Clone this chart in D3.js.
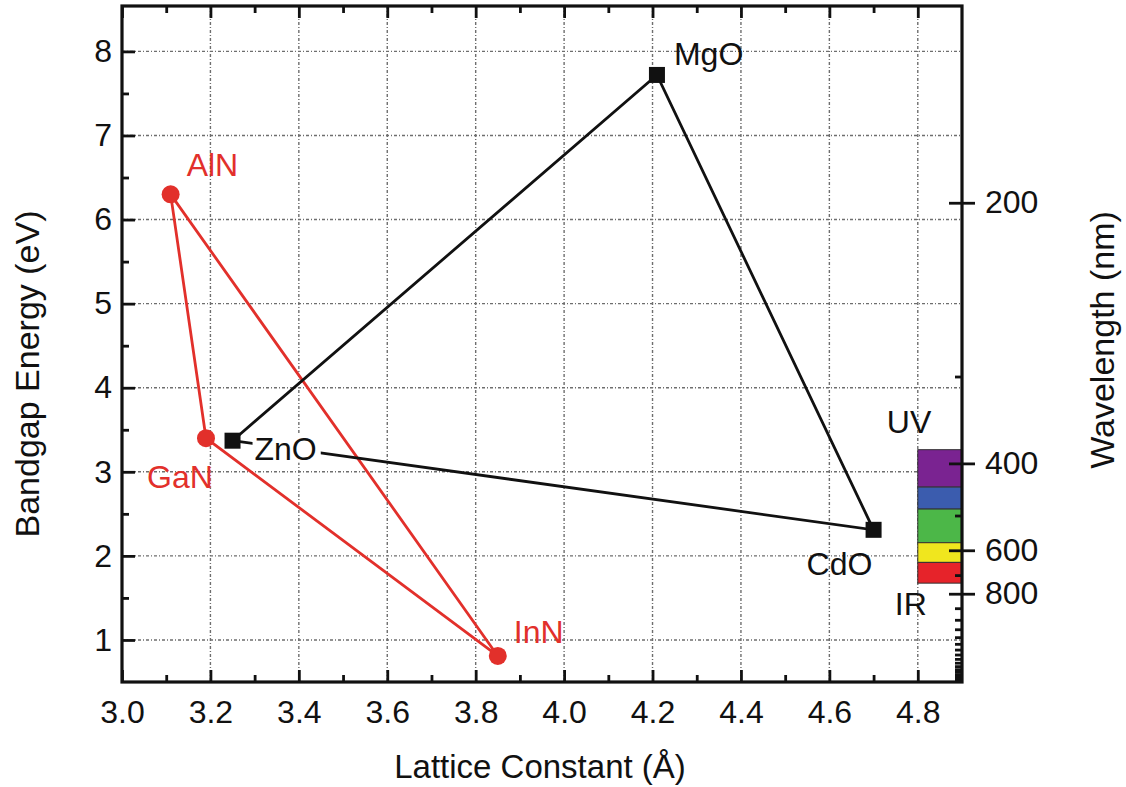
<!DOCTYPE html>
<html>
<head>
<meta charset="utf-8">
<script src="https://cdn.jsdelivr.net/npm/d3@7"></script>
<style>
  html, body { margin: 0; padding: 0; background: #fff; }
  svg { display: block; }
  text { font-family: Arial, "Liberation Sans", sans-serif; }
</style>
</head>
<body>
<svg id="chart" width="1126" height="787"></svg>
<script>
// ---------- data ----------
const nitrideNames = ["AlN", "GaN", "InN"];
const nitrideLattice = [3.11, 3.19, 3.85];
const nitrideGap = [6.3, 3.4, 0.81];

const oxideNames = ["ZnO", "MgO", "CdO"];
const oxideLattice = [3.25, 4.21, 4.70];
const oxideGap = [3.37, 7.72, 2.31];

const xTicksMajor = [3.0, 3.2, 3.4, 3.6, 3.8, 4.0, 4.2, 4.4, 4.6, 4.8];
const xTicksMinor = [3.1, 3.3, 3.5, 3.7, 3.9, 4.1, 4.3, 4.5, 4.7];
const yTicksMajor = [1, 2, 3, 4, 5, 6, 7, 8];
const yTicksMinor = [1.5, 2.5, 3.5, 4.5, 5.5, 6.5, 7.5];
const wlTicksMajor = [200, 400, 600, 800];
const wlTicksMinor = [300, 500, 700, 900, 1000, 1100, 1200, 1300, 1400, 1500, 1600, 1700, 1800, 1900, 2000, 2100, 2200, 2300, 2400];

const bandEdges = [380, 440, 485, 575, 645, 740]; // nm
const bandColors = ["#7a2391", "#3b5cae", "#4cb748", "#f0e61e", "#e6232a"];

// ---------- layout ----------
const svg = d3.select("#chart");
const L = 122, R = 962, T = 6, B = 682;
const xDomain = [3.0, 4.9];
const yDomain = [0.5, 8.54];
const x = d3.scaleLinear().domain(xDomain).range([L, R]);
const y = d3.scaleLinear().domain(yDomain).range([B, T]);
const hc = 1240; // eV*nm
const wl = d3.scalePow().exponent(-1)
  .domain([hc / yDomain[1], hc / yDomain[0]])
  .range([T, B]);

const RED = "#e2302b";
const BLACK = "#111";
const FONT = 32;

// ---------- grid ----------
const gridStyle = g => g.attr("stroke", "#6e6e6e").attr("stroke-width", 1.4)
  .attr("stroke-dasharray", "3,2,1,2").attr("fill", "none");
svg.append("g").call(gridStyle).selectAll("line")
  .data(xTicksMajor.filter(v => v > xDomain[0]))
  .join("line")
  .attr("x1", d => x(d)).attr("x2", d => x(d)).attr("y1", T).attr("y2", B);
svg.append("g").call(gridStyle).selectAll("line")
  .data(yTicksMajor)
  .join("line")
  .attr("x1", L).attr("x2", R).attr("y1", d => y(d)).attr("y2", d => y(d));

// ---------- colour bar ----------
const bands = bandColors.map((c, i) => ({ c, a: bandEdges[i], b: bandEdges[i + 1] }));
svg.append("g").selectAll("rect").data(bands).join("rect")
  .attr("x", x(4.8)).attr("width", x(4.9) - x(4.8))
  .attr("y", d => wl(d.a)).attr("height", d => wl(d.b) - wl(d.a))
  .attr("fill", d => d.c).attr("stroke", "#333").attr("stroke-width", 1);

// ---------- lines ----------
const nitrides = nitrideNames.map((n, i) => ({ n, a: nitrideLattice[i], e: nitrideGap[i] }));
const oxides = oxideNames.map((n, i) => ({ n, a: oxideLattice[i], e: oxideGap[i] }));
const line = d3.line().x(d => x(d.a)).y(d => y(d.e));

svg.append("path").datum([...nitrides, nitrides[0]])
  .attr("d", line).attr("fill", "none").attr("stroke", RED).attr("stroke-width", 2.8);
svg.append("path").datum([...oxides, oxides[0]])
  .attr("d", line).attr("fill", "none").attr("stroke", BLACK).attr("stroke-width", 2.8);

// ---------- labels ----------
const labelOffsets = {
  AlN: [16, -18], GaN: [-59, 50], InN: [16, -13],
  ZnO: [22, 19], MgO: [17, -10], CdO: [-67, 45]
};
function addLabels(data, color, halo) {
  const g = svg.append("g");
  data.forEach(d => {
    const [dx, dy] = labelOffsets[d.n];
    const t = g.append("text")
      .attr("x", x(d.a) + dx).attr("y", y(d.e) + dy)
      .attr("font-size", FONT).attr("fill", color).text(d.n);
    if (halo.includes(d.n)) {
      const bb = t.node().getBBox();
      g.insert("rect", () => t.node())
        .attr("x", bb.x - 2).attr("y", bb.y + 4).attr("width", bb.width + 6).attr("height", bb.height - 8)
        .attr("fill", "#fff");
    }
  });
}
addLabels(nitrides, RED, []);
addLabels(oxides, BLACK, ["ZnO"]);

// ---------- markers ----------
svg.append("g").selectAll("circle").data(nitrides).join("circle")
  .attr("cx", d => x(d.a)).attr("cy", d => y(d.e)).attr("r", 9).attr("fill", RED);
svg.append("g").selectAll("rect").data(oxides).join("rect")
  .attr("x", d => x(d.a) - 8).attr("y", d => y(d.e) - 8)
  .attr("width", 16).attr("height", 16).attr("fill", BLACK);

// ---------- axes ----------
const axisStyle = g => {
  g.select(".domain").remove();
  g.selectAll(".tick line").attr("stroke", BLACK).attr("stroke-width", 2.8);
  g.selectAll("text").attr("font-size", FONT).attr("fill", BLACK)
    .attr("font-family", 'Arial, "Liberation Sans", sans-serif');
};
// bottom
svg.append("g").attr("transform", `translate(0,${B})`)
  .call(d3.axisBottom(x).tickValues(xTicksMajor).tickFormat(d3.format(".1f")).tickSizeInner(-12).tickSizeOuter(0).tickPadding(18))
  .call(axisStyle);
svg.append("g").attr("transform", `translate(0,${B})`)
  .call(d3.axisBottom(x).tickValues(xTicksMinor).tickFormat("").tickSizeInner(-7).tickSizeOuter(0))
  .call(axisStyle);
// top
svg.append("g").attr("transform", `translate(0,${T})`)
  .call(d3.axisTop(x).tickValues(xTicksMajor).tickFormat("").tickSizeInner(-12).tickSizeOuter(0))
  .call(axisStyle);
svg.append("g").attr("transform", `translate(0,${T})`)
  .call(d3.axisTop(x).tickValues(xTicksMinor).tickFormat("").tickSizeInner(-7).tickSizeOuter(0))
  .call(axisStyle);
// left
svg.append("g").attr("transform", `translate(${L},0)`)
  .call(d3.axisLeft(y).tickValues(yTicksMajor).tickFormat(d3.format("d")).tickSizeInner(-13).tickSizeOuter(0).tickPadding(10))
  .call(axisStyle);
svg.append("g").attr("transform", `translate(${L},0)`)
  .call(d3.axisLeft(y).tickValues(yTicksMinor).tickFormat("").tickSizeInner(-7).tickSizeOuter(0))
  .call(axisStyle);
// right (wavelength)
svg.append("g").attr("transform", `translate(${R},0)`)
  .call(d3.axisRight(wl).tickValues(wlTicksMajor).tickFormat(d3.format("d")).tickSizeInner(13).tickSizeOuter(0).tickPadding(10))
  .call(axisStyle);
svg.append("g").attr("transform", `translate(${R},0)`)
  .call(d3.axisLeft(wl).tickValues(wlTicksMajor).tickFormat("").tickSizeInner(13).tickSizeOuter(0))
  .call(axisStyle);
svg.append("g").attr("transform", `translate(${R},0)`)
  .call(d3.axisLeft(wl).tickValues(wlTicksMinor).tickFormat("").tickSizeInner(7).tickSizeOuter(0))
  .call(axisStyle);

// frame
svg.append("rect").attr("x", L).attr("y", T).attr("width", R - L).attr("height", B - T)
  .attr("fill", "none").attr("stroke", BLACK).attr("stroke-width", 3.2);

// UV / IR
svg.append("text").attr("x", x(4.8) - 31).attr("y", wl(bandEdges[0]) - 17)
  .attr("font-size", FONT).attr("fill", BLACK).text("UV");
svg.append("text").attr("x", x(4.8) - 23).attr("y", wl(bandEdges[bandEdges.length - 1]) + 32)
  .attr("font-size", FONT).attr("fill", BLACK).text("IR");

// ---------- titles ----------
svg.append("text").attr("x", 540).attr("y", 778).attr("text-anchor", "middle")
  .attr("font-size", 33).attr("fill", BLACK).text("Lattice Constant (Å)");
svg.append("text").attr("transform", "translate(39,374) rotate(-90)").attr("text-anchor", "middle")
  .attr("font-size", 34).attr("fill", BLACK).text("Bandgap Energy (eV)");
svg.append("text").attr("transform", "translate(1114,340) rotate(-90)").attr("text-anchor", "middle")
  .attr("font-size", 34).attr("fill", BLACK).text("Wavelength (nm)");
</script>
</body>
</html>
